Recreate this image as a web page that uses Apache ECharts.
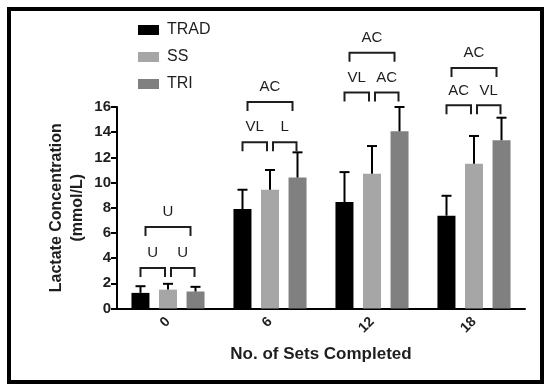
<!DOCTYPE html>
<html>
<head>
<meta charset="utf-8">
<script src="https://cdn.jsdelivr.net/npm/echarts@6/dist/echarts.min.js"></script>
<style>
	html, body { margin: 0; padding: 0; background: #fff; }
	#chart { width: 544px; height: 387px; }
</style>
</head>
<body>
<div id="chart"></div>
<script>
	// 数据
	const categories = ["0", "6", "12", "18"];
	const tradMean = [1.24, 7.9, 8.45, 7.37];
	const tradSD = [0.53, 1.53, 2.38, 1.58];
	const ssMean = [1.5, 9.43, 10.7, 11.5];
	const ssSD = [0.46, 1.57, 2.2, 2.2];
	const triMean = [1.35, 10.4, 14.07, 13.36];
	const triSD = [0.37, 2.0, 1.93, 1.79];
	const yTicks = [0, 2, 4, 6, 8, 10, 12, 14, 16];

	// 显著性标注（组、起止柱、高度、文字）
	const bracketGroup = [0, 0, 0, 1, 1, 1, 2, 2, 2, 3, 3, 3];
	const bracketFrom = [0, 1, 0, 0, 1, 0, 0, 1, 0, 0, 1, 0];
	const bracketTo = [1, 2, 2, 1, 2, 2, 1, 2, 2, 1, 2, 2];
	const bracketLevel = [3.22, 3.22, 6.47, 13.2, 13.2, 16.4, 17.16, 17.16, 20.3, 16.13, 16.13, 19.1];
	const bracketLabel = ["U", "U", "U", "VL", "L", "AC", "VL", "AC", "AC", "AC", "VL", "AC"];

	const FONT = "Liberation Sans, Arial, Helvetica, sans-serif";
	const TXT = "#1e1e1e";
	const barWidth = 18;
	const barPitch = 27.5;
	const colors = ["#000000", "#a6a6a6", "#808080"];

	const chart = echarts.init(document.getElementById("chart"));

	const errorSeries = (mean, sd, idx) => ({
		type: "custom",
		silent: true,
		z: 5,
		clip: false,
		data: mean.map((m, i) => [i, m, sd[i]]),
		renderItem: (params, api) => {
			const base = api.coord([api.value(0), api.value(1)]);
			const top = api.coord([api.value(0), api.value(1) + api.value(2)]);
			const x = base[0] + (idx - 1) * barPitch;
			const st = { stroke: "#000", lineWidth: 2 };
			return {
				type: "group",
				children: [
					{ type: "line", shape: { x1: x, y1: base[1], x2: x, y2: top[1] }, style: st },
					{ type: "line", shape: { x1: x - 5, y1: top[1], x2: x + 5, y2: top[1] }, style: st }
				]
			};
		}
	});

	const bracketSeries = {
		type: "custom",
		silent: true,
		z: 6,
		clip: false,
		data: bracketGroup.map((g, i) => [g, bracketLevel[i], bracketFrom[i], bracketTo[i]]),
		renderItem: (params, api) => {
			const p = api.coord([api.value(0), api.value(1)]);
			const from = api.value(2), to = api.value(3);
			let x1 = p[0] + (from - 1) * barPitch;
			let x2 = p[0] + (to - 1) * barPitch;
			if (to - from === 2) {
				x1 += 5;
				x2 -= 5;
			} else {
				x1 += from === 1 ? 3 : 0;
				x2 -= to === 1 ? 3 : 1;
			}
			const y = p[1];
			const st = { stroke: TXT, lineWidth: 2, fill: null };
			return {
				type: "group",
				children: [
					{ type: "polyline", shape: { points: [[x1, y + 9], [x1, y], [x2, y], [x2, y + 9]] }, style: st },
					{
						type: "text",
						x: (x1 + x2) / 2,
						y: y - 15,
						style: {
							text: bracketLabel[params.dataIndex],
							fill: TXT,
							font: "15px " + FONT,
							align: "center",
							verticalAlign: "middle"
						}
					}
				]
			};
		}
	};

	const barSeries = (name, data, idx) => ({
		name: name,
		type: "bar",
		barWidth: barWidth,
		barGap: "53%",
		itemStyle: { color: colors[idx] },
		data: data
	});

	const option = {
		animation: false,
		textStyle: { fontFamily: FONT },
		legend: {
			data: ["TRAD", "SS", "TRI"],
			orient: "vertical",
			left: 133,
			top: 17,
			itemWidth: 21,
			itemHeight: 10,
			itemGap: 11,
			icon: "rect",
			textStyle: { fontSize: 16, color: TXT, lineHeight: 16, padding: [0, 0, 0, 3] }
		},
		grid: { left: 117, right: 19, top: 107, bottom: 78.5 },
		xAxis: {
			type: "category",
			data: categories,
			name: "No. of Sets Completed",
			nameLocation: "middle",
			nameGap: 37,
			nameTextStyle: { fontSize: 17, fontWeight: "bold", color: TXT },
			axisLine: { lineStyle: { color: "#000", width: 2 } },
			axisTick: { alignWithLabel: true, length: 5, lineStyle: { color: "#000", width: 2 } },
			axisLabel: { rotate: 45, margin: 11, fontSize: 14, fontWeight: "bold", color: TXT }
		},
		yAxis: {
			type: "value",
			min: yTicks[0],
			max: yTicks[yTicks.length - 1],
			interval: yTicks[1] - yTicks[0],
			name: "Lactate Concentration\n(mmol/L)",
			nameLocation: "middle",
			nameRotate: 90,
			nameGap: 29,
			nameMoveOverlap: false,
			nameTextStyle: { fontSize: 16, fontWeight: "bold", color: TXT, lineHeight: 21 },
			splitLine: { show: false },
			axisLine: { show: true, lineStyle: { color: "#000", width: 2 } },
			axisTick: { show: true, length: 6, lineStyle: { color: "#000", width: 2 } },
			axisLabel: { margin: 6, fontSize: 15, fontWeight: "bold", color: TXT }
		},
		graphic: [
			{
				type: "rect",
				shape: { x: 9, y: 9, width: 533, height: 373 },
				style: { fill: null, stroke: "#000", lineWidth: 4 },
				silent: true,
				z: 100
			}
		],
		series: [
			barSeries("TRAD", tradMean, 0),
			barSeries("SS", ssMean, 1),
			barSeries("TRI", triMean, 2),
			errorSeries(tradMean, tradSD, 0),
			errorSeries(ssMean, ssSD, 1),
			errorSeries(triMean, triSD, 2),
			bracketSeries
		]
	};

	chart.setOption(option);
	window.addEventListener("resize", () => chart.resize());
</script>
</body>
</html>
